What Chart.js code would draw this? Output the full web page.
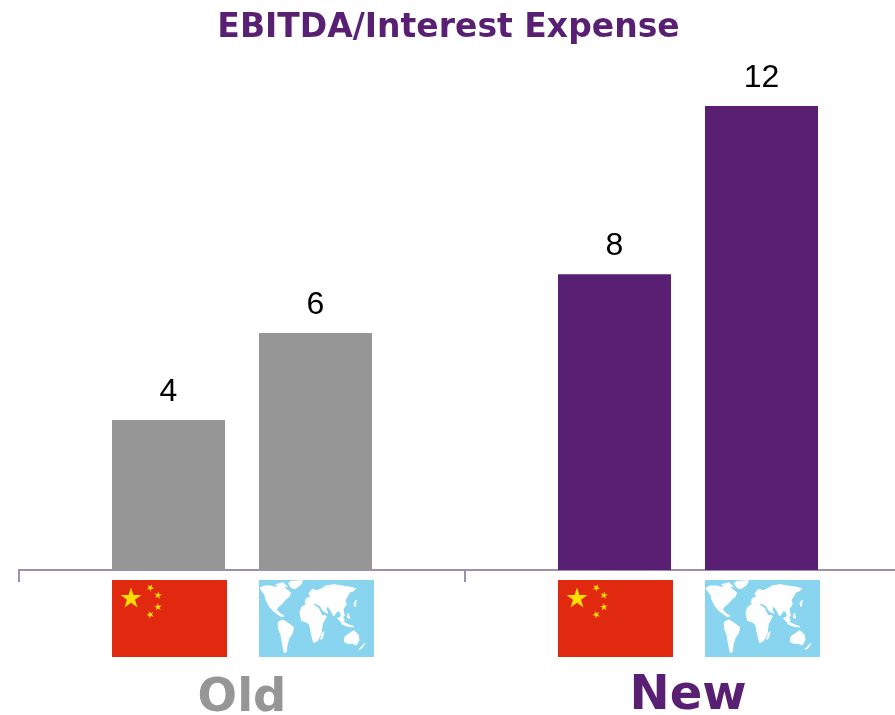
<!DOCTYPE html>
<html>
<head>
<meta charset="utf-8">
<style>
html,body{margin:0;padding:0;background:#fff;overflow:hidden;width:895px;height:715px}
canvas{display:block}
</style>
<script src="https://cdn.jsdelivr.net/npm/chart.js@4/dist/chart.umd.min.js"></script>
</head>
<body>
<canvas id="c" width="911" height="715"></canvas>
<script>
const categories = ['Old', 'New'];
const chinaValues = [3.88, 7.65];
const worldValues = [6.13, 12];
const seriesNames = ['China', 'World'];
const chartTitle = 'EBITDA/Interest Expense';

const GREY = '#969696', PURPLE = '#581F72', AXIS = '#9C90AE';

const land = [
 [[3,24],[15,18],[35,18],[50,22],[62,16],[75,22],[85,30],[95,38],[90,50],[80,58],[70,70],[60,78],[52,88],[62,100],[75,108],[68,110],[55,102],[42,92],[30,78],[22,62],[18,46],[8,32]],
 [[95,4],[130,2],[125,14],[108,26],[98,24],[88,10]],
 [[50,14],[72,8],[85,20],[65,18]],
 [[58,126],[72,120],[88,130],[104,142],[100,160],[90,175],[84,195],[82,215],[76,218],[70,190],[66,165],[58,145]],
 [[123,98],[128,82],[140,74],[162,74],[178,84],[188,106],[202,108],[190,132],[186,160],[176,182],[164,188],[158,165],[152,135],[142,126],[128,122]],
 [[138,68],[142,55],[155,52],[150,40],[160,28],[175,32],[190,25],[200,18],[225,14],[250,18],[275,22],[290,26],[282,34],[272,36],[266,48],[258,60],[262,72],[252,88],[256,108],[248,112],[244,96],[236,92],[224,108],[216,92],[208,80],[200,82],[206,100],[192,92],[184,78],[170,70],[155,74],[145,72]],
 [[236,115],[250,108],[256,122],[246,126]],
 [[250,125],[270,135],[285,140],[270,140],[248,132]],
 [[268,100],[272,115],[265,112]],
 [[285,70],[292,60],[288,80]],
 [[258,170],[272,160],[285,152],[298,165],[300,180],[292,195],[280,190],[265,190],[256,185]],
 [[190,160],[195,155],[190,175],[185,178]],
 [[312,195],[318,190],[308,205],[300,208]]
];
const bigStar = [19, 18.5, 11];
const smallStars = [[38.3,7.7,4],[46,15.3,4],[46,27,4],[38.3,34.7,4]];

function star(ctx, cx, cy, r, rot) {
  ctx.beginPath();
  for (let i = 0; i < 10; i++) {
    const rad = i % 2 ? r * 0.382 : r;
    const a = -Math.PI / 2 + rot + i * Math.PI / 5;
    ctx[i ? 'lineTo' : 'moveTo'](cx + rad * Math.cos(a), cy + rad * Math.sin(a));
  }
  ctx.closePath();
  ctx.fill();
}
function chinaFlag(ctx, x, y, w, h) {
  ctx.fillStyle = '#E0290E';
  ctx.fillRect(x, y, w, h);
  ctx.fillStyle = '#FFDE00';
  star(ctx, x + bigStar[0], y + bigStar[1], bigStar[2], 0);
  smallStars.forEach((s, i) => star(ctx, x + s[0], y + s[1], s[2], 0.5 - i * 0.3));
}
function worldFlag(ctx, x, y, w, h) {
  ctx.fillStyle = '#89D5EF';
  ctx.fillRect(x, y, w, h);
  ctx.fillStyle = '#FFFFFF';
  ctx.strokeStyle = '#FFFFFF';
  ctx.lineWidth = 1;
  ctx.lineJoin = 'round';
  const k = w / 345, m = h / 231;
  land.forEach(p => {
    ctx.beginPath();
    p.forEach((q, i) => ctx[i ? 'lineTo' : 'moveTo'](x + q[0] * k, y + q[1] * m));
    ctx.closePath();
    ctx.fill();
    ctx.stroke();
  });
}

const overlay = {
  id: 'overlay',
  afterLayout(chart) {
    chart.titleBlock.left -= 16.5;
    chart.titleBlock.right -= 16.5;
  },
  afterDatasetsDraw(chart) {
    const ctx = chart.ctx;
    ctx.save();
    ctx.textAlign = 'center';
    ctx.textBaseline = 'middle';
    chart.data.datasets.forEach((ds, i) => {
      chart.getDatasetMeta(i).data.forEach((bar, j) => {
        ctx.font = '32px "Liberation Sans"';
        ctx.fillStyle = '#000';
        ctx.fillText(String(Math.round(ds.data[j])), bar.x, bar.y - 28);
        const fy = chart.scales.x.top + 10, fx = bar.x - 56.5;
        (i === 0 ? chinaFlag : worldFlag)(ctx, fx, fy, 115, 77);
      });
    });
    ctx.restore();
  }
};

new Chart(document.getElementById('c'), {
  type: 'bar',
  data: {
    labels: categories,
    datasets: [
      { label: seriesNames[0], data: chinaValues, backgroundColor: [GREY, PURPLE] },
      { label: seriesNames[1], data: worldValues, backgroundColor: [GREY, PURPLE] }
    ]
  },
  options: {
    responsive: false,
    animation: false,
    categoryPercentage: 0.6592,
    barPercentage: 0.7687,
    layout: { padding: { left: 19, right: 0, top: 0, bottom: 0 } },
    plugins: {
      legend: { display: false },
      tooltip: { enabled: false },
      title: {
        display: true,
        text: chartTitle,
        color: PURPLE,
        font: { family: '"DejaVu Sans"', size: 33, weight: 'bold' },
        padding: { top: 8.4, bottom: 4 }
      }
    },
    scales: {
      y: { display: false, min: 0, max: 13.4, grid: { display: false } },
      x: {
        afterFit(s) { s.height = 145; },
        border: { color: AXIS, width: 2 },
        grid: { offset: true, drawOnChartArea: false, color: AXIS, lineWidth: 2, tickLength: 12 },
        ticks: {
          padding: 86,
          maxRotation: 0,
          color: ctx => ctx.index === 0 ? GREY : PURPLE,
          font: ctx => ({ family: '"DejaVu Sans"', weight: 'bold', size: ctx.index === 0 ? 46.5 : 48, lineHeight: ctx.index === 0 ? 1.33 : 1.2 })
        }
      }
    }
  },
  plugins: [overlay]
});
</script>
</body>
</html>
